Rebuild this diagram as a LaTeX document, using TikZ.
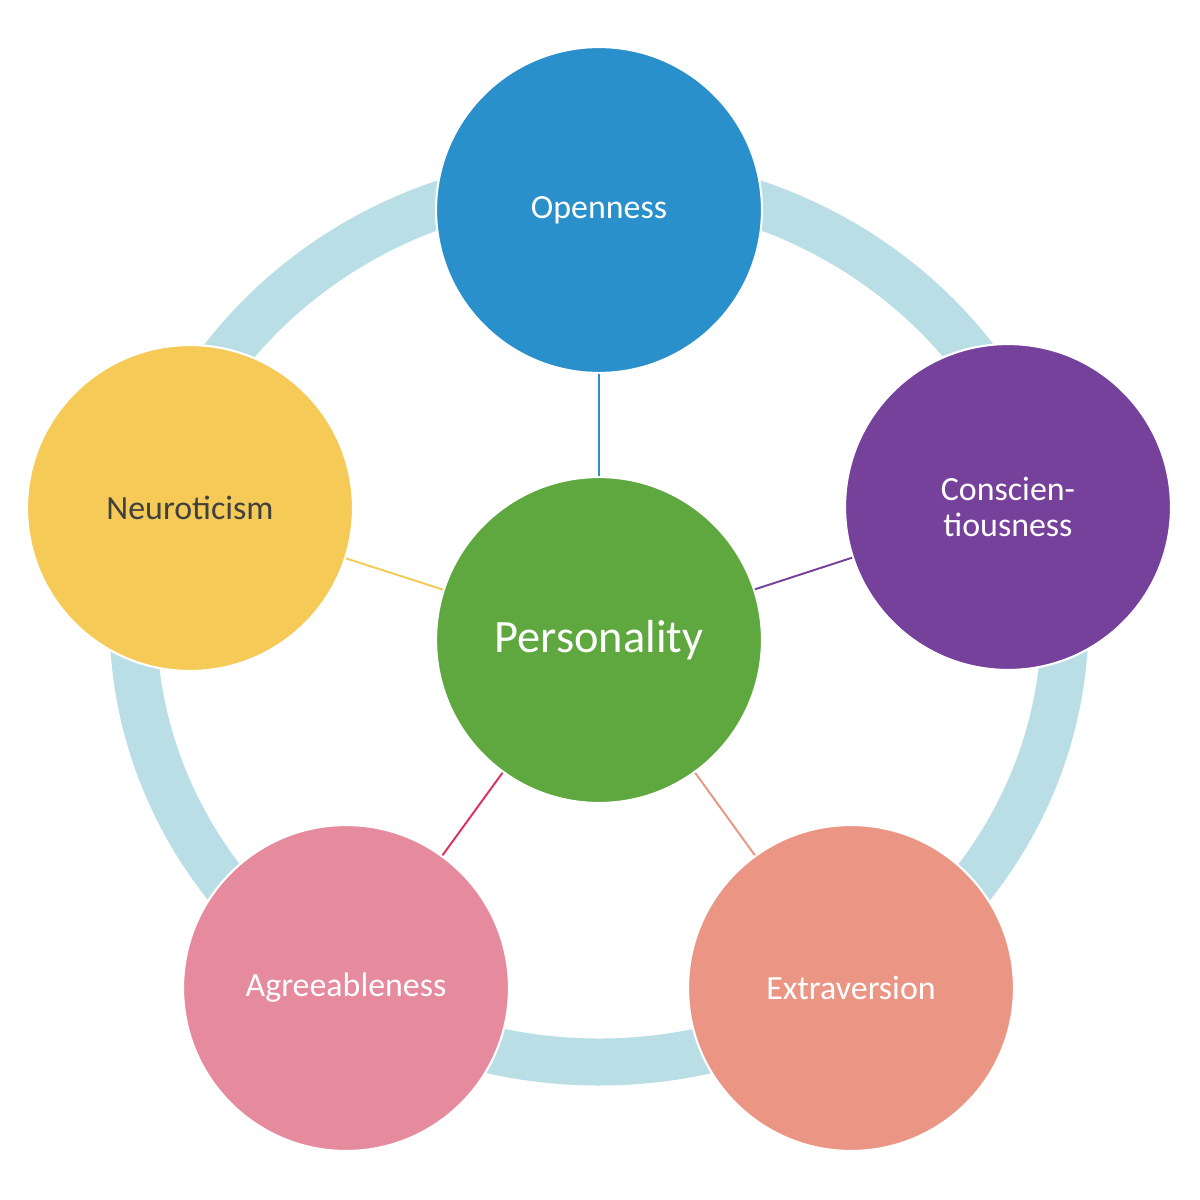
\documentclass[tikz,border=0pt]{standalone}
\usepackage{fontspec}
\setmainfont{Carlito}
\definecolor{cOpen}{RGB}{42,144,204}
\definecolor{cCons}{RGB}{118,65,155}
\definecolor{cNeur}{RGB}{245,202,86}
\definecolor{cAgre}{RGB}{230,138,157}
\definecolor{cExtr}{RGB}{235,150,133}
\definecolor{cPers}{RGB}{94,168,63}
\definecolor{cRing}{RGB}{185,222,230}
\definecolor{cAgLine}{RGB}{224,48,90}
\definecolor{cDark}{RGB}{64,64,64}
\begin{document}
\begin{tikzpicture}[x=0.02cm,y=-0.02cm,
  bubble/.style={circle, draw=white, line width=1.2pt, minimum size=6.52cm,
    inner sep=0pt, align=center, text=white,
    font=\fontsize{19.3pt}{21pt}\selectfont},
  link/.style={line width=1.1pt}]
\useasboundingbox[fill=white] (0,0) rectangle (1200,1200);
\draw[cRing, line width=0.94cm] (599,620) ellipse [x radius=466, y radius=442];
\node[bubble, fill=cPers, font=\fontsize{26.4pt}{28pt}\selectfont] (P) at (599,640) {Personality};
\node[bubble, fill=cOpen] (O) at (599,210) {Openness};
\node[bubble, fill=cCons] (C) at (1008,507) {Conscien-\\tiousness};
\node[bubble, fill=cExtr] (E) at (851,988) {Extraversion};
\node[bubble, fill=cAgre] (A) at (346,988) {Agreeableness};
\node[bubble, fill=cNeur, text=cDark] (N) at (190,508) {Neuroticism};
\draw[link, cOpen] (P) -- (O);
\draw[link, cCons] (P) -- (C);
\draw[link, cExtr] (P) -- (E);
\draw[link, cAgLine] (P) -- (A);
\draw[link, cNeur] (P) -- (N);
\end{tikzpicture}
\end{document}
